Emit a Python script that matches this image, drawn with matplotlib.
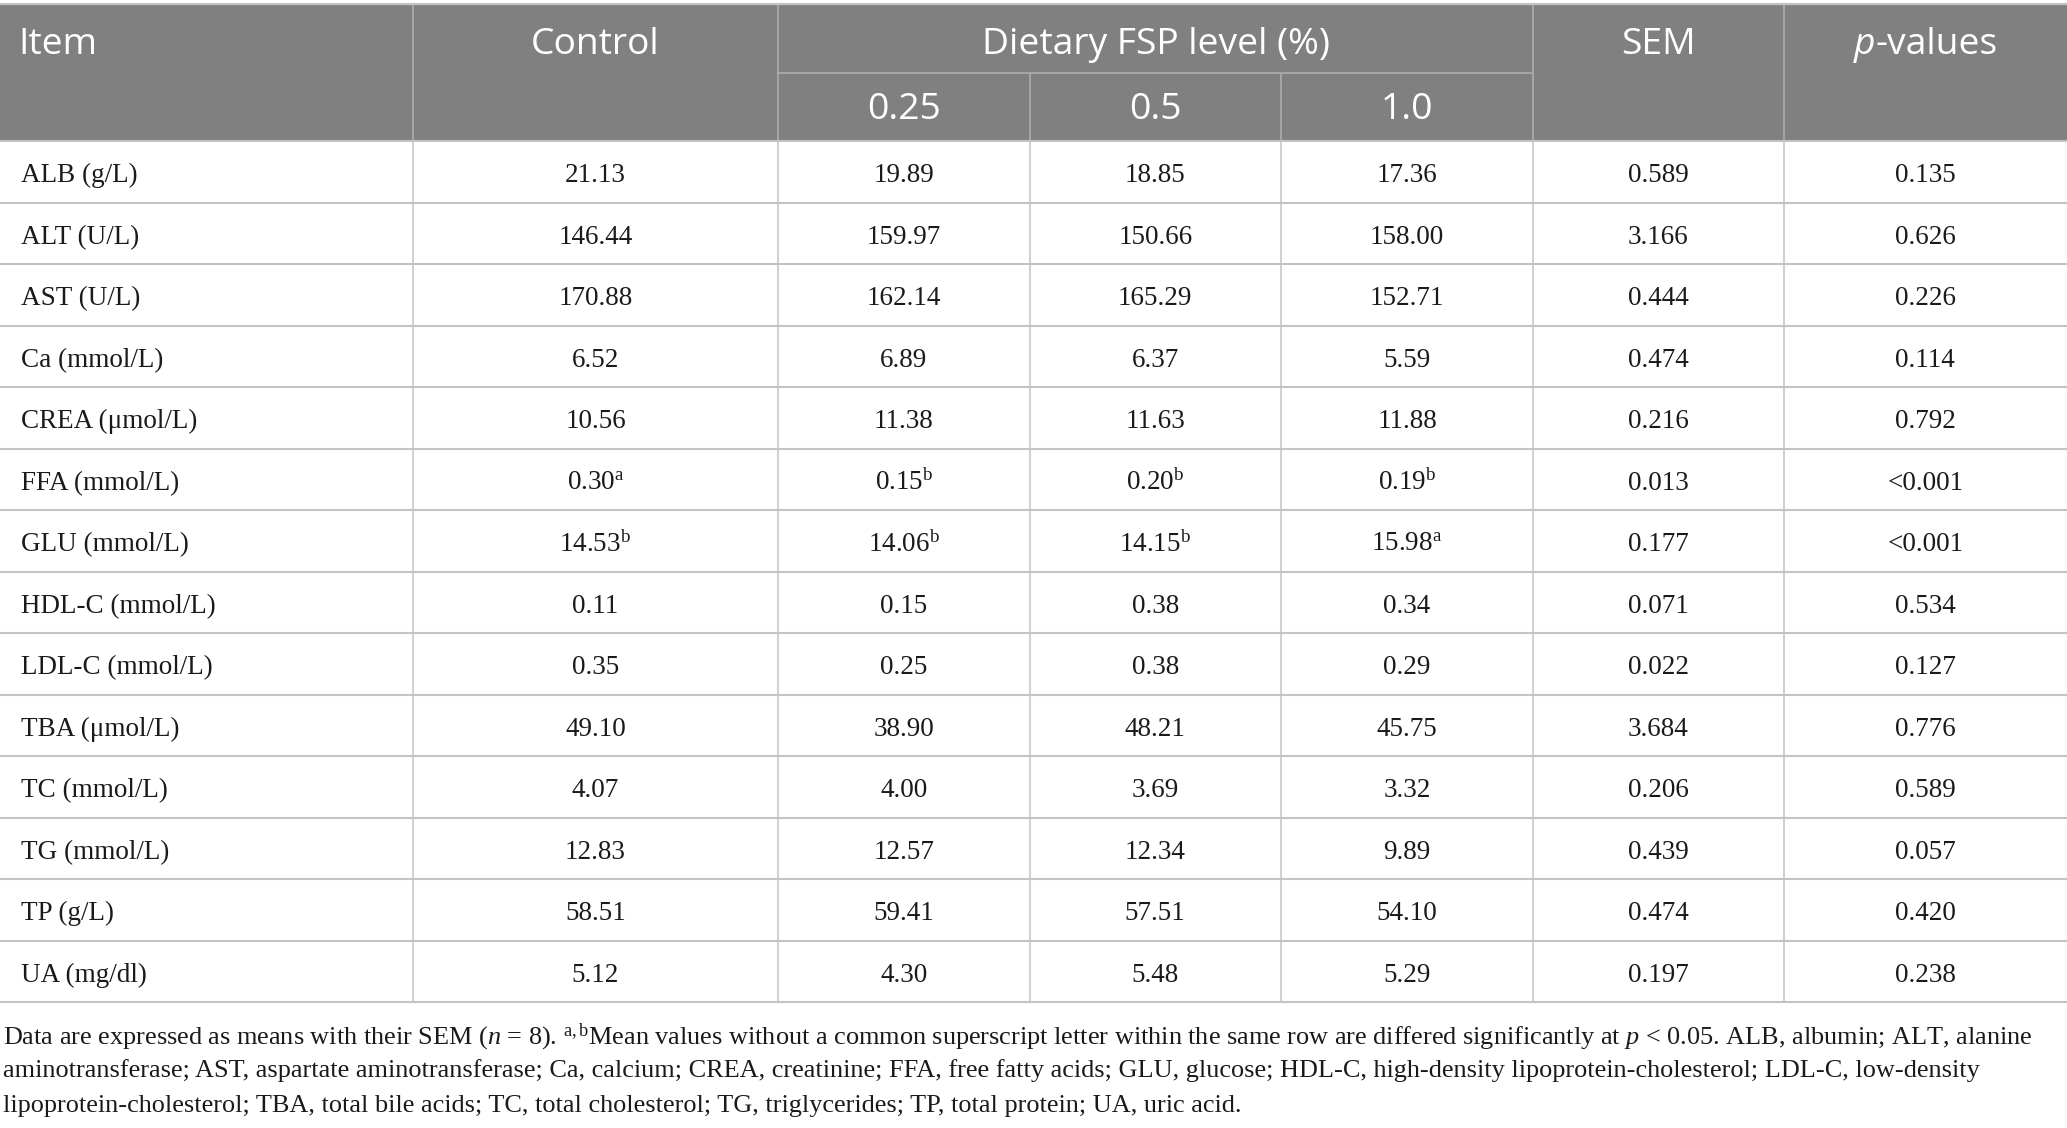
import matplotlib
matplotlib.use("Agg")
import matplotlib.pyplot as plt

plt.rcParams['mathtext.fontset'] = 'custom'
plt.rcParams['mathtext.rm'] = 'Liberation Serif'
plt.rcParams['mathtext.it'] = 'Liberation Serif:italic'
plt.rcParams['mathtext.bf'] = 'Liberation Serif:bold'

# ---------------- data ----------------
items = ["ALB (g/L)", "ALT (U/L)", "AST (U/L)", "Ca (mmol/L)", "CREA (μmol/L)",
         "FFA (mmol/L)", "GLU (mmol/L)", "HDL-C (mmol/L)", "LDL-C (mmol/L)",
         "TBA (μmol/L)", "TC (mmol/L)", "TG (mmol/L)", "TP (g/L)", "UA (mg/dl)"]
control = [21.13, 146.44, 170.88, 6.52, 10.56, 0.30, 14.53, 0.11, 0.35, 49.10, 4.07, 12.83, 58.51, 5.12]
fsp_025 = [19.89, 159.97, 162.14, 6.89, 11.38, 0.15, 14.06, 0.15, 0.25, 38.90, 4.00, 12.57, 59.41, 4.30]
fsp_05 = [18.85, 150.66, 165.29, 6.37, 11.63, 0.20, 14.15, 0.38, 0.38, 48.21, 3.69, 12.34, 57.51, 5.48]
fsp_10 = [17.36, 158.00, 152.71, 5.59, 11.88, 0.19, 15.98, 0.34, 0.29, 45.75, 3.32, 9.89, 54.10, 5.29]
sup_control = ["", "", "", "", "", "a", "b", "", "", "", "", "", "", ""]
sup_025 = ["", "", "", "", "", "b", "b", "", "", "", "", "", "", ""]
sup_05 = ["", "", "", "", "", "b", "b", "", "", "", "", "", "", ""]
sup_10 = ["", "", "", "", "", "b", "a", "", "", "", "", "", "", ""]
sem = [0.589, 3.166, 0.444, 0.474, 0.216, 0.013, 0.177, 0.071, 0.022, 3.684, 0.206, 0.439, 0.474, 0.197]
p_values = ["0.135", "0.626", "0.226", "0.114", "0.792", "<0.001", "<0.001", "0.534",
            "0.127", "0.776", "0.589", "0.057", "0.420", "0.238"]
level_labels = ["0.25", "0.5", "1.0"]

footnote = [
    r"Data are expressed as means with their SEM ($n$ = 8). $^{\mathrm{a,b}}$Mean values without a common superscript letter within the same row are differed significantly at $p$ < 0.05. ALB, albumin; ALT, alanine",
    "aminotransferase; AST, aspartate aminotransferase; Ca, calcium; CREA, creatinine; FFA, free fatty acids; GLU, glucose; HDL-C, high-density lipoprotein-cholesterol; LDL-C, low-density",
    "lipoprotein-cholesterol; TBA, total bile acids; TC, total cholesterol; TG, triglycerides; TP, total protein; UA, uric acid.",
]

# ---------------- layout ----------------
W, H = 2067, 1128
fig = plt.figure(figsize=(W / 100, H / 100), dpi=100)
ax = fig.add_axes([0, 0, 1, 1])
ax.set_xlim(0, W)
ax.set_ylim(H, 0)
ax.axis("off")

col_edges = [0, 413, 778, 1029.5, 1281, 1533, 1783.5, 2067]
head_top, head_mid, head_bot = 5, 72.5, 141
row_h = (1002 - head_bot) / len(items)
HEAD_BG = "#7f807f"
LINE = "#c3c3c3"
HLINE = "#a8a9a8"
SERIF = "Liberation Serif"
SANS = "Open Sans"
BODY_FS = 19.5
HEAD_FS = 26.8
TXT = "#1a1a1a"

# header background
ax.fill_between([col_edges[0], col_edges[-1]], head_top, head_bot, color=HEAD_BG, lw=0, zorder=1)
ax.plot([0, W], [head_top - 1.5, head_top - 1.5], color=LINE, lw=1.6, zorder=3)
# header separators
for x in [col_edges[1], col_edges[2], col_edges[5], col_edges[6]]:
    ax.plot([x, x], [head_top, head_bot], color=HLINE, lw=1.3, zorder=2)
for x in [col_edges[3], col_edges[4]]:
    ax.plot([x, x], [head_mid, head_bot], color=HLINE, lw=1.3, zorder=2)
ax.plot([col_edges[2], col_edges[5]], [head_mid, head_mid], color=HLINE, lw=1.3, zorder=2)

# body lines
for i in range(len(items) + 1):
    y = head_bot + i * row_h
    ax.plot([0, W], [y, y], color=LINE, lw=1.5, zorder=2)
for x in col_edges[1:-1]:
    ax.plot([x, x], [head_bot, head_bot + len(items) * row_h], color=LINE, lw=1.1, zorder=2)

# header text
hy1 = 45
hy2 = 110
def cx(i):
    return (col_edges[i] + col_edges[i + 1]) / 2

hkw = dict(va="center", color="white", family=SANS, fontsize=HEAD_FS, zorder=4)
ax.text(18, hy1, "Item", ha="left", **hkw)
ax.text(cx(1), hy1, "Control", ha="center", **hkw)
ax.text((col_edges[2] + col_edges[5]) / 2, hy1, "Dietary FSP level (%)", ha="center", **hkw)
for j, lab in enumerate(level_labels):
    ax.text(cx(2 + j), hy2, lab, ha="center", **hkw)
ax.text(cx(5), hy1, "SEM", ha="center", **hkw)

# p-values header: italic p + regular "-values", centred together
fig.canvas.draw()
r = fig.canvas.get_renderer()
tp = ax.text(0, hy1, "p", ha="left", style="italic", **hkw)
tv = ax.text(0, hy1, "-values", ha="left", **hkw)
wp = tp.get_window_extent(r).width
wv = tv.get_window_extent(r).width
x0 = cx(6) - (wp + wv) / 2
tp.set_x(x0)
tv.set_x(x0 + wp + 1)

# body text
def cell(v, s, fmt):
    txt = fmt.format(v)
    return txt + (r"$^{\mathrm{%s}}$" % s if s else "")

bkw = dict(va="center_baseline", family=SERIF, fontsize=BODY_FS, color=TXT, zorder=4)
for i, name in enumerate(items):
    y = head_bot + (i + 0.5) * row_h + 1
    ax.text(21, y, name, ha="left", **bkw)
    vals = [cell(control[i], sup_control[i], "{:.2f}"),
            cell(fsp_025[i], sup_025[i], "{:.2f}"),
            cell(fsp_05[i], sup_05[i], "{:.2f}"),
            cell(fsp_10[i], sup_10[i], "{:.2f}"),
            "{:.3f}".format(sem[i]),
            p_values[i]]
    for j, t in enumerate(vals):
        ax.text(cx(1 + j), y, t, ha="center", **bkw)

# footnote
for k, line in enumerate(footnote):
    ax.text(3, 1033 + k * 35.2, line, ha="left", va="center_baseline", family=SERIF, fontsize=18.9,
            color=TXT, zorder=4)

fig.savefig("out.png", dpi=100, facecolor="white")
